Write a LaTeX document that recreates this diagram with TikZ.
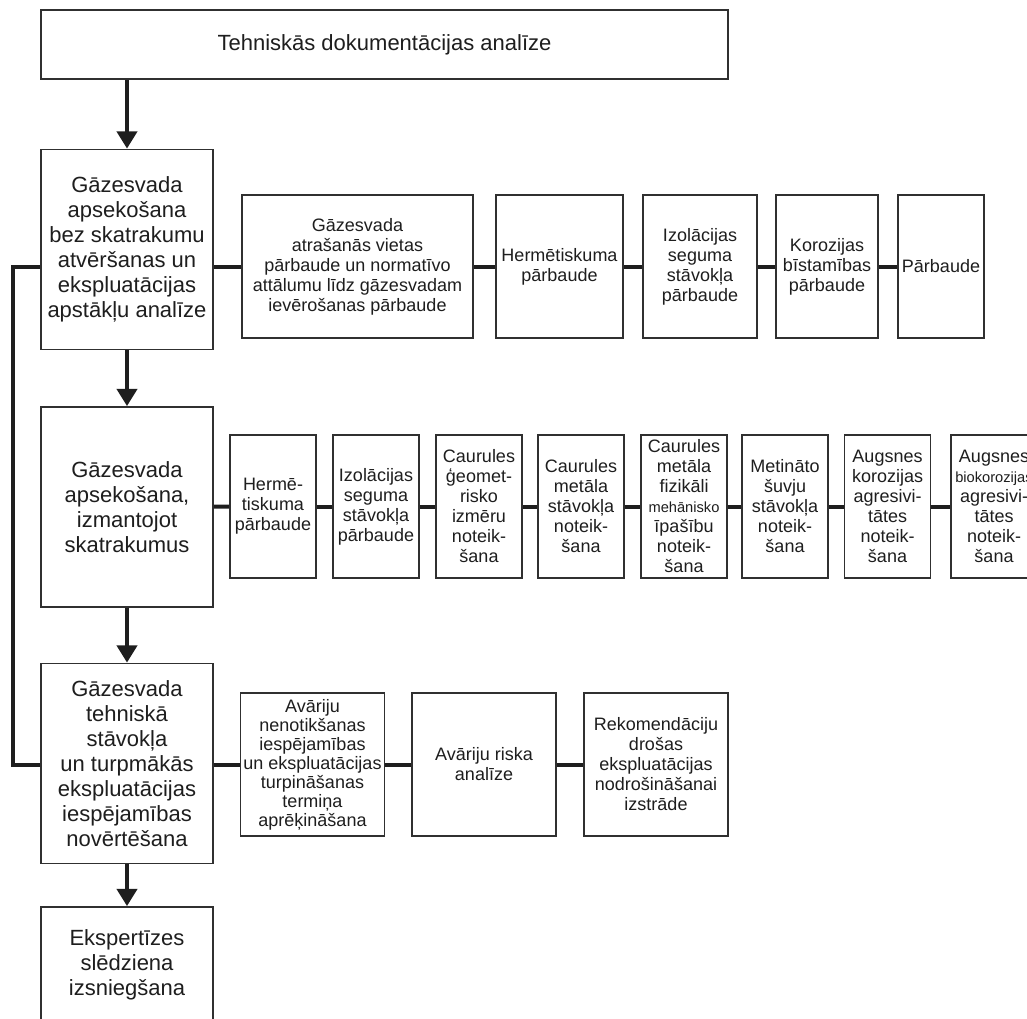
\documentclass[tikz,border=0pt]{standalone}
\usepackage{fontspec}
\setmainfont{Liberation Sans}
\usetikzlibrary{arrows.meta}
\definecolor{InkBlack}{HTML}{1E1E1E}
\definecolor{FrameGray}{HTML}{303030}
\tikzset{
  stagebox/.style={draw=FrameGray, line width=1.3pt, fill=white, text=InkBlack, align=center, inner sep=0pt, minimum width=129pt, minimum height=150pt, font=\fontsize{16.5}{18.75}\selectfont},
  taskbox/.style={draw=FrameGray, line width=1.3pt, fill=white, text=InkBlack, align=center, inner sep=0pt, minimum height=107.25pt, font=\fontsize{13.5}{15}\selectfont},
  flowarrow/.style={-{Triangle[length=13pt,width=15pt]}, line width=3.2pt, draw=InkBlack},
  link/.style={line width=3pt, draw=InkBlack}
}
\newcommand{\tinyline}[1]{{\fontsize{11}{15}\selectfont #1}}

\begin{document}
\begin{tikzpicture}[x=0.75pt, y=-0.75pt]
\useasboundingbox (0,0) rectangle (1027,1018);
\node[stagebox, minimum width=515.25pt, minimum height=51.75pt] (docs) at (384.5,44.5) {Tehniskās dokumentācijas analīze};
\node[stagebox] (survey) at (127,249.5) {Gāzesvada\\apsekošana\\bez skatrakumu\\atvēršanas un\\ekspluatācijas\\apstākļu analīze};
\node[stagebox] (pits) at (127,507) {Gāzesvada\\apsekošana,\\izmantojot\\skatrakumus};
\node[stagebox] (assess) at (127,763.5) {Gāzesvada\\tehniskā\\stāvokļa\\un turpmākās\\ekspluatācijas\\iespējamības\\novērtēšana};
\node[stagebox, minimum height=86.25pt] (verdict) at (127,964.5) {Ekspertīzes\\slēdziena\\izsniegšana};

\node[taskbox, minimum width=173.25pt] (sitecheck) at (357.5,266.5) {Gāzesvada\\atrašanās vietas\\pārbaude un normatīvo\\attālumu līdz gāzesvadam\\ievērošanas pārbaude};
\node[taskbox, minimum width=95.25pt] (sealcheck) at (559.5,266.5) {Hermētiskuma\\pārbaude};
\node[taskbox, minimum width=85.5pt] (coatcheck) at (700,266.5) {Izolācijas\\seguma\\stāvokļa\\pārbaude};
\node[taskbox, minimum width=76.5pt] (corrcheck) at (827,266.5) {Korozijas\\bīstamības\\pārbaude};
\node[taskbox, minimum width=64.5pt] (plaincheck) at (941,266.5) {Pārbaude};

\node[taskbox, minimum width=64.5pt] (pitseal) at (273,506.5) {Hermē-\\tiskuma\\pārbaude};
\node[taskbox, minimum width=64.5pt] (pitcoat) at (376,506.5) {Izolācijas\\seguma\\stāvokļa\\pārbaude};
\node[taskbox, minimum width=64.5pt] (pipegeom) at (479,506.5) {Caurules\\ģeomet-\\risko\\izmēru\\noteik-\\šana};
\node[taskbox, minimum width=64.5pt] (pipemetal) at (581,506.5) {Caurules\\metāla\\stāvokļa\\noteik-\\šana};
\node[taskbox, minimum width=64.5pt] (pipemech) at (684,506.5) {Caurules\\metāla\\fizikāli\\\tinyline{mehānisko}\\īpašību\\noteik-\\šana};
\node[taskbox, minimum width=64.5pt] (welds) at (785,506.5) {Metināto\\šuvju\\stāvokļa\\noteik-\\šana};
\node[taskbox, minimum width=64.5pt] (soilcorr) at (887.5,506.5) {Augsnes\\korozijas\\agresivi-\\tātes\\noteik-\\šana};
\node[taskbox, minimum width=64.5pt] (soilbio) at (994,506.5) {Augsnes\\\tinyline{biokorozijas}\\agresivi-\\tātes\\noteik-\\šana};

\node[taskbox, minimum width=108pt, font=\fontsize{13.5}{14.25}\selectfont] (riskcalc) at (312.5,764.5) {Avāriju\\nenotikšanas\\iespējamības\\un ekspluatācijas\\turpināšanas\\termiņa\\aprēķināšana};
\node[taskbox, minimum width=108pt] (riskanal) at (484,764.5) {Avāriju riska\\analīze};
\node[taskbox, minimum width=108pt] (advice) at (656,764.5) {Rekomendāciju\\drošas\\ekspluatācijas\\nodrošināšanai\\izstrāde};

\coordinate (trunk) at (13,266.5);

\draw[flowarrow] (docs.south -| survey) -- (survey.north);
\draw[flowarrow] (survey) -- (pits);
\draw[flowarrow] (pits) -- (assess);
\draw[flowarrow] (assess) -- (verdict);

\draw[link] (survey.east |- sitecheck) -- (sitecheck);
\draw[link] (sitecheck) -- (sealcheck);
\draw[link] (sealcheck) -- (coatcheck);
\draw[link] (coatcheck) -- (corrcheck);
\draw[link] (corrcheck) -- (plaincheck);

\draw[link] (pits) -- (pitseal);
\draw[link] (pitseal) -- (pitcoat);
\draw[link] (pitcoat) -- (pipegeom);
\draw[link] (pipegeom) -- (pipemetal);
\draw[link] (pipemetal) -- (pipemech);
\draw[link] (pipemech) -- (welds);
\draw[link] (welds) -- (soilcorr);
\draw[link] (soilcorr) -- (soilbio);

\draw[link] (assess.east |- riskcalc) -- (riskcalc);
\draw[link] (riskcalc) -- (riskanal);
\draw[link] (riskanal) -- (advice);

\draw[link] (survey.west |- sitecheck) -- (trunk) |- (assess.west |- riskcalc);
\end{tikzpicture}
\end{document}
